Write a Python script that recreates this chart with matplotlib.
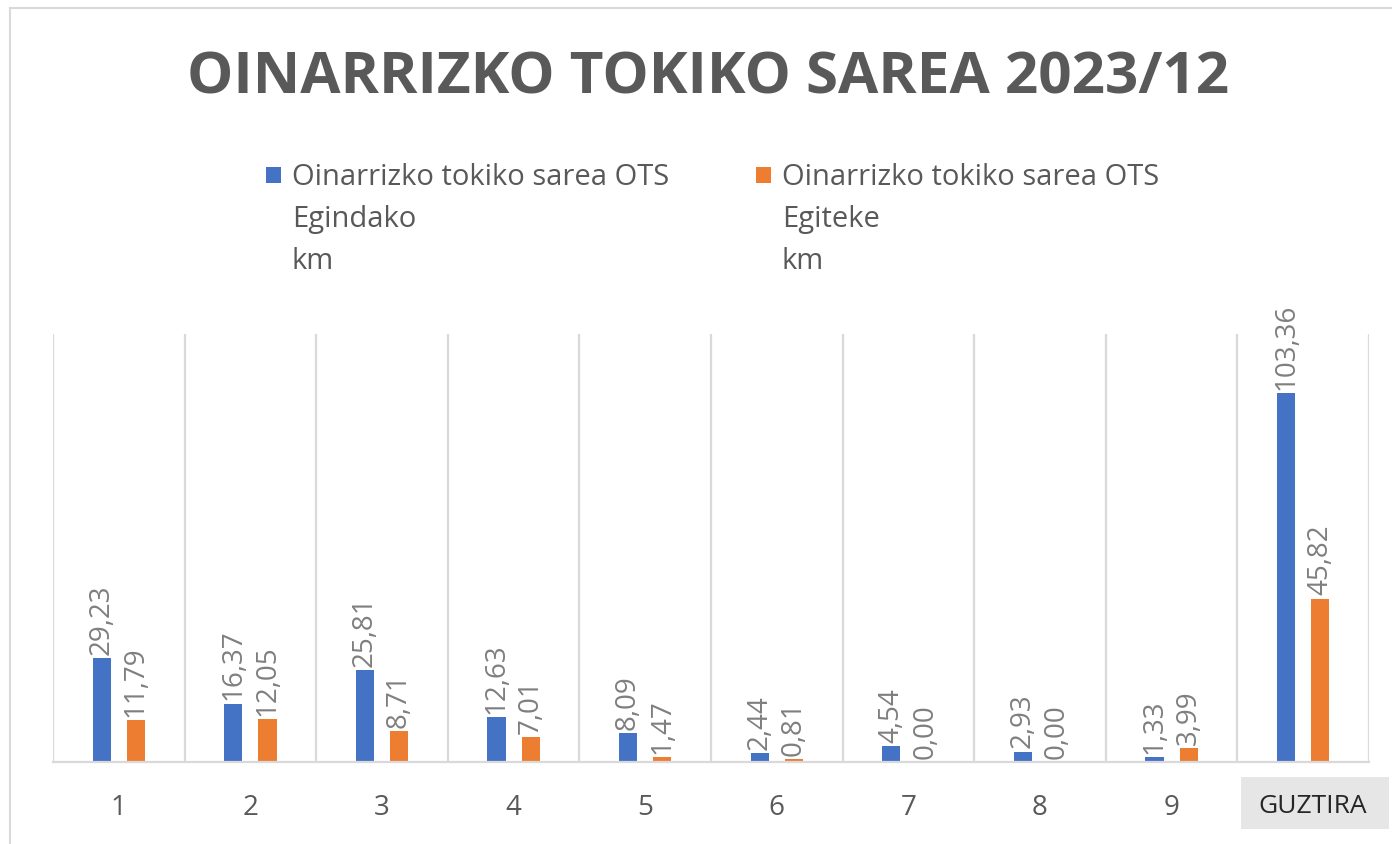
import numpy as np
import matplotlib
matplotlib.use("Agg")
import matplotlib.pyplot as plt
from matplotlib.patches import Rectangle
from matplotlib.lines import Line2D
import matplotlib.transforms as mtransforms

plt.rcParams['font.family'] = ['Open Sans', 'DejaVu Sans']

# datuak
categories = ['1', '2', '3', '4', '5', '6', '7', '8', '9', 'GUZTIRA']
egindako = [29.23, 16.37, 25.81, 12.63, 8.09, 2.44, 4.54, 2.93, 1.33, 103.36]
egiteke = [11.79, 12.05, 8.71, 7.01, 1.47, 0.81, 0.00, 0.00, 3.99, 45.82]
series_names = ['Oinarrizko tokiko sarea OTS\nEgindako\nkm',
                'Oinarrizko tokiko sarea OTS\nEgiteke\nkm']
title = 'OINARRIZKO TOKIKO SAREA 2023/12'

blue = '#4472C4'
orange = '#ED7D31'
grid_col = '#D9D9D9'
text_col = '#595959'

W, H = 1392, 845
fig = plt.figure(figsize=(W / 100, H / 100), dpi=100)


def fx(px):
    return px / W


def fy(py):
    return 1 - py / H


ax = fig.add_axes([fx(53), fy(763), fx(1369) - fx(53), fy(335) - fy(763)])

x = np.arange(len(categories))
off = 0.13
bw = 0.137
b1 = ax.bar(x - off, egindako, bw, color=blue)
b2 = ax.bar(x + off, egiteke, bw, color=orange)

# balioen etiketak
for bars, vals in ((b1, egindako), (b2, egiteke)):
    for rect, v in zip(bars, vals):
        ax.annotate(f'{v:.2f}'.replace('.', ','),
                    (rect.get_x() + rect.get_width() / 2, rect.get_height()),
                    xytext=(0, 3), textcoords='offset points',
                    rotation=90, ha='center', va='bottom',
                    fontsize=20, color='#7F7F7F')

ax.set_xlim(-0.5, len(categories) - 0.5)
ax.set_ylim(0, 120)
ax.set_xticks(x)
ax.set_xticklabels(categories, fontsize=20, color=text_col)
ax.set_xticks(np.arange(-0.5, len(categories), 1), minor=True)
ax.tick_params(axis='x', which='both', length=0, pad=22)
ax.set_yticks([])
ax.grid(which='minor', axis='x', color=grid_col, lw=1.6)
ax.set_axisbelow(True)
for s in ('left', 'right', 'top'):
    ax.spines[s].set_visible(False)
ax.spines['bottom'].set_color(grid_col)
ax.spines['bottom'].set_linewidth(1.6)

# GUZTIRA etiketaren atzeko laukia
trans = mtransforms.blended_transform_factory(ax.transData, ax.transAxes)
ax.add_patch(Rectangle((8.53, -0.157), 1.12, 0.122, transform=trans,
                       facecolor='#E7E6E6', edgecolor='none', clip_on=False, zorder=0))
last = ax.get_xticklabels()[-1]
last.set_color('#262626')
last.set_fontsize(19)
shift = mtransforms.ScaledTranslation(0.09, 0, fig.dpi_scale_trans)
last.set_transform(last.get_transform() + shift)

# izenburua
fig.text(fx(708), fy(78), title, ha='center', va='center',
         fontsize=42, fontweight='bold', color=text_col)

# legenda
for sx, name, col in ((266, series_names[0], blue), (756, series_names[1], orange)):
    fig.add_artist(Rectangle((fx(sx), fy(184)), fx(15), fy(168) - fy(184),
                             transform=fig.transFigure, facecolor=col, edgecolor='none'))
    fig.text(fx(sx + 26), fy(163), name, ha='left', va='top', fontsize=21,
             color=text_col, linespacing=1.6)

# kanpoko ertza
fig.add_artist(Line2D([fx(10), fx(10)], [0, fy(9)], transform=fig.transFigure,
                      color=grid_col, lw=1.5))
fig.add_artist(Line2D([fx(10), 1], [fy(9), fy(9)], transform=fig.transFigure,
                      color=grid_col, lw=1.5))

fig.savefig('out.png', dpi=100, facecolor='white')
